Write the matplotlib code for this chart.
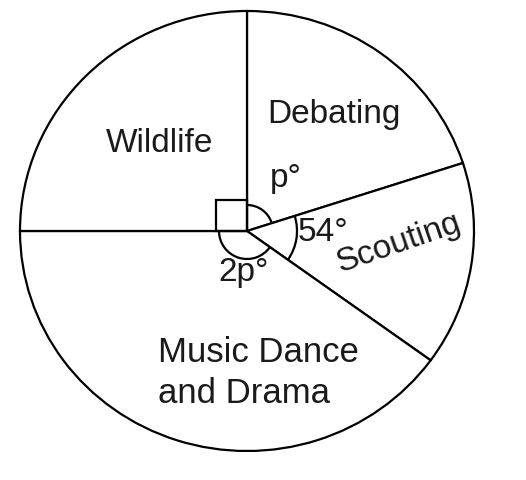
import matplotlib
matplotlib.use("Agg")
import matplotlib.pyplot as plt
from matplotlib.patches import Arc, Rectangle
import numpy as np

plt.rcParams['font.family'] = ['Liberation Sans', 'DejaVu Sans']

# Data (degrees): 90 + p + 54 + 2p = 360  ->  p = 72
categories = ["Debating", "Scouting", "Music Dance\nand Drama", "Wildlife"]
angles = [72, 54, 144, 90]
angle_labels = ["p°", "54°", "2p°", ""]

W, H = 526, 480
fig = plt.figure(figsize=(W / 100, H / 100), dpi=100)
ax = fig.add_axes([0, 0, 1, 1])

ky = 227.0 / 220.0          # slight vertical squash of the reference circle
def Y(py):
    return (H - py) * ky

cx, cy = 247, Y(231)
R = 227

ax.pie(angles, startangle=90, counterclock=False, center=(cx, cy), radius=R,
       wedgeprops=dict(facecolor='white', edgecolor='black', linewidth=1.6))
ax.set_aspect('auto')
ax.set_xlim(0, W)
ax.set_ylim(0, H * ky)
ax.axis('off')

# boundaries of sectors (degrees, matplotlib convention)
bounds = [90]
for a in angles:
    bounds.append(bounds[-1] - a)

# angle markers
lw = 1.6
ax.add_patch(Arc((cx, cy), 2 * 26, 2 * 26 * ky, theta1=bounds[1], theta2=bounds[0],
                 color='black', lw=lw))
ax.add_patch(Arc((cx, cy), 2 * 50, 2 * 50 * ky, theta1=bounds[2], theta2=bounds[1],
                 color='black', lw=lw))
ax.add_patch(Arc((cx, cy), 2 * 28, 2 * 28 * ky, theta1=bounds[3], theta2=bounds[2],
                 color='black', lw=lw))
s = 31
ax.add_patch(Rectangle((cx - s, cy), s, s * ky, fill=False, edgecolor='black', lw=lw))

fs = 24
tc = '#1a1a1a'
ax.text(160, Y(143), categories[3], fontsize=fs, ha='center', va='center', color=tc)
ax.text(334, Y(114), categories[0], fontsize=fs, ha='center', va='center', color=tc)
ax.text(399, Y(243), categories[1], fontsize=fs, ha='center', va='center', rotation=19,
        rotation_mode='anchor', color=tc)
ml = categories[2].split("\n")
ax.text(158, Y(362), ml[0], fontsize=25, ha='left', va='baseline', color=tc)
ax.text(158, Y(403), ml[1], fontsize=25, ha='left', va='baseline', color=tc)

ax.text(286, Y(178), angle_labels[0], fontsize=fs, ha='center', va='center', color=tc)
ax.text(323, Y(232), angle_labels[1], fontsize=fs, ha='center', va='center', color=tc)
ax.text(244, Y(273), angle_labels[2], fontsize=fs, ha='center', va='center', color=tc)

fig.savefig("out.png", dpi=100, facecolor='white')
